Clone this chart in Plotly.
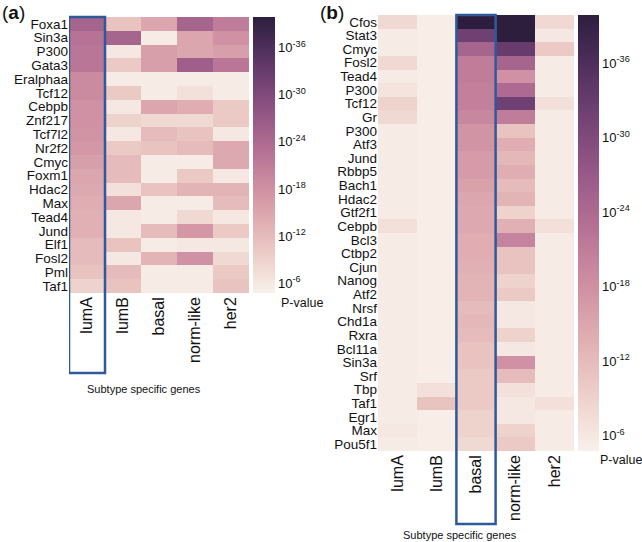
import numpy as np
import plotly.graph_objects as go

subtypes = ["lumA", "lumB", "basal", "norm-like", "her2"]

genes_a = ["Foxa1", "Sin3a", "P300", "Gata3", "Eralphaa", "Tcf12", "Cebpb", "Znf217",
           "Tcf7l2", "Nr2f2", "Cmyc", "Foxm1", "Hdac2", "Max", "Tead4", "Jund", "Elf1",
           "Fosl2", "Pml", "Taf1"]
# -log10(P-value); columns: lumA, lumB, basal, norm-like, her2
vals_a = [
    [25, 11, 15, 25, 21],
    [22.5, 25, 5.5, 15, 18],
    [22, 6, 16, 15, 16],
    [22, 10, 16, 26, 22],
    [19, 5.5, 5.5, 5.5, 5.5],
    [19, 10, 5.5, 7, 5.5],
    [18, 6, 15, 14, 10],
    [18, 9, 8, 8, 10],
    [17.5, 6, 12, 11, 6],
    [17, 10, 11, 12, 14.5],
    [16, 12, 5.5, 5.5, 14.5],
    [15, 12, 5.5, 10, 6],
    [14.5, 7, 11, 13, 13],
    [14, 15, 5.5, 5.5, 12],
    [13.5, 6, 5.5, 8, 6],
    [13.5, 6, 12, 17, 10],
    [12, 11, 5.5, 6, 6],
    [12, 6, 13, 18, 8],
    [11, 12, 5.5, 5.5, 10],
    [9, 11, 5.5, 5.5, 11],
]

genes_b = ["Cfos", "Stat3", "Cmyc", "Fosl2", "Tead4", "P300", "Tcf12", "Gr", "P300", "Atf3",
           "Jund", "Rbbp5", "Bach1", "Hdac2", "Gtf2f1", "Cebpb", "Bcl3", "Ctbp2", "Cjun",
           "Nanog", "Atf2", "Nrsf", "Chd1a", "Rxra", "Bcl11a", "Sin3a", "Srf", "Tbp", "Taf1",
           "Egr1", "Max", "Pou5f1"]
vals_b = [
    [8, 5.2, 40, 40, 8],
    [5.5, 5.2, 32, 40, 6],
    [5.5, 5.2, 25, 33, 10],
    [8, 5.2, 21, 25, 5.5],
    [5.5, 5.2, 21, 18, 5.5],
    [6.5, 5.2, 20.5, 24, 5.5],
    [9, 5.2, 20.5, 32, 7],
    [8, 5.2, 19.5, 21, 5.5],
    [5.5, 5.2, 17.5, 11, 5.5],
    [5.5, 5.2, 17.5, 14, 5.5],
    [5.5, 5.2, 16.5, 12.5, 5.5],
    [5.5, 5.2, 16.5, 14, 5.5],
    [5.5, 5.2, 15.5, 12, 5.5],
    [5.5, 5.2, 15, 13, 5.5],
    [5.5, 5.2, 14.5, 9, 5.5],
    [7, 5.2, 14.5, 13.5, 7],
    [5.5, 5.2, 14, 20, 5.5],
    [5.5, 5.2, 14, 11, 5.5],
    [5.5, 5.2, 13.5, 11, 5.5],
    [5.5, 5.2, 13, 9, 5.5],
    [5.5, 5.2, 13, 10, 5.5],
    [5.5, 5.2, 12, 6, 5.5],
    [5.5, 5.2, 12.5, 6, 5.5],
    [5.5, 5.2, 12, 9, 5.5],
    [5.5, 5.2, 11, 6, 5.5],
    [5.5, 5.2, 11, 18, 5.5],
    [5.5, 5.2, 10, 12, 5.5],
    [5.5, 7, 10, 7, 5.5],
    [5.5, 11, 10, 6, 7],
    [5.5, 5.2, 9, 6, 5.5],
    [6, 5.2, 9, 9, 5.5],
    [5.5, 5.2, 8, 10, 5.5],
]

cbar_tickvals = [6, 12, 18, 24, 30, 36]
cbar_ticktext = ["10<sup>-6</sup>", "10<sup>-12</sup>", "10<sup>-18</sup>",
                 "10<sup>-24</sup>", "10<sup>-30</sup>", "10<sup>-36</sup>"]


# cubehelix colormap (seaborn-style, light -> dark)
def cubehelix(x, start=0.0, rot=0.4, hue=0.8, gamma=1.0):
    xg = x ** gamma
    phi = 2 * np.pi * (start / 3 + rot * x)
    a = hue * xg * (1 - xg) / 2
    r = xg + a * (-0.14861 * np.cos(phi) + 1.78277 * np.sin(phi))
    g = xg + a * (-0.29227 * np.cos(phi) - 0.90649 * np.sin(phi))
    b = xg + a * (1.97294 * np.cos(phi))
    return [int(round(255 * min(max(c, 0), 1))) for c in (r, g, b)]


light, dark = 0.95, 0.15
cs = []
for t in np.linspace(0, 1, 21):
    r, g, b = cubehelix(light + (dark - light) * t)
    cs.append([float(t), f"rgb({r},{g},{b})"])

W, H = 642, 542
ZMIN, ZMAX = 4.75, 39.9
FONT = "Liberation Sans, Arial, sans-serif"


def px(x):
    return x / W


def py(y):
    return 1 - y / H


fig = go.Figure()

cb_common = dict(lenmode="fraction", thicknessmode="pixels", outlinewidth=0, ticks="",
                 tickvals=cbar_tickvals, ticktext=cbar_ticktext, ypad=0, xpad=0,
                 tickfont=dict(family=FONT, size=13, color="#111"))

fig.add_trace(go.Heatmap(
    z=vals_a, x=list(range(len(subtypes))), y=list(range(len(genes_a))),
    colorscale=cs, zmin=ZMIN, zmax=ZMAX, xaxis="x", yaxis="y",
    colorbar=dict(x=px(253), xanchor="left", y=py(17), yanchor="top",
                  len=(293 - 17) / H, thickness=22, **cb_common),
))
fig.add_trace(go.Heatmap(
    z=vals_b, x=list(range(len(subtypes))), y=list(range(len(genes_b))),
    colorscale=cs, zmin=ZMIN, zmax=ZMAX, xaxis="x2", yaxis="y2",
    colorbar=dict(x=px(578), xanchor="left", y=py(15), yanchor="top",
                  len=(451 - 15) / H, thickness=21, **cb_common),
))

xax = dict(tickmode="array", tickvals=list(range(len(subtypes))), ticktext=subtypes,
           tickangle=-90, tickfont=dict(family=FONT, size=16, color="#111"),
           showgrid=False, zeroline=False, showline=False, ticks="", range=[-0.5, 4.5],
           automargin=False)
yax = dict(tickmode="array", showgrid=False, zeroline=False, showline=False, ticks="",
           automargin=False)

fig.update_layout(
    template="none",
    width=W, height=H, margin=dict(l=0, r=0, t=0, b=0, autoexpand=False),
    paper_bgcolor="white", plot_bgcolor="white",
    font=dict(family=FONT, color="#111"),
    xaxis=dict(domain=[px(69), px(249)], anchor="y", **xax),
    yaxis=dict(domain=[py(293), py(17)], anchor="x",
               tickvals=list(range(len(genes_a))), ticktext=genes_a,
               range=[len(genes_a) - 0.5, -0.5],
               tickfont=dict(family=FONT, size=13.5, color="#111"), **yax),
    xaxis2=dict(domain=[px(378), px(574)], anchor="y2", **xax),
    yaxis2=dict(domain=[py(451), py(15)], anchor="x2",
                tickvals=list(range(len(genes_b))), ticktext=genes_b,
                range=[len(genes_b) - 0.5, -0.5],
                tickfont=dict(family=FONT, size=13.5, color="#111"), **yax),
)

box = dict(color="#2f5a9a", width=2.5)
fig.add_shape(type="rect", xref="x", yref="paper", x0=-0.5, x1=0.5,
              y0=py(373), y1=py(17), line=box, fillcolor="rgba(0,0,0,0)")
fig.add_shape(type="rect", xref="x2", yref="paper", x0=1.5, x1=2.5,
              y0=py(524), y1=py(15), line=box, fillcolor="rgba(0,0,0,0)")

ann = [
    dict(text="(<b>a</b>)", x=px(0), y=py(12), xanchor="left", size=19),
    dict(text="(<b>b</b>)", x=px(318), y=py(12), xanchor="left", size=19),
    dict(text="P-value", x=px(279), y=py(303), xanchor="left", size=12.5),
    dict(text="P-value", x=px(598), y=py(460), xanchor="left", size=12.5),
    dict(text="Subtype specific genes", x=px(144), y=py(389), xanchor="center", size=11),
    dict(text="Subtype specific genes", x=px(460), y=py(535), xanchor="center", size=11),
]
for a in ann:
    fig.add_annotation(text=a["text"], x=a["x"], y=a["y"], xref="paper", yref="paper",
                       xanchor=a["xanchor"], yanchor="middle", showarrow=False,
                       font=dict(family=FONT, size=a["size"], color="#111"))

fig.write_html("out.html", config={"displayModeBar": False},
               post_script="document.body.style.margin='0';document.body.style.padding='0';")
